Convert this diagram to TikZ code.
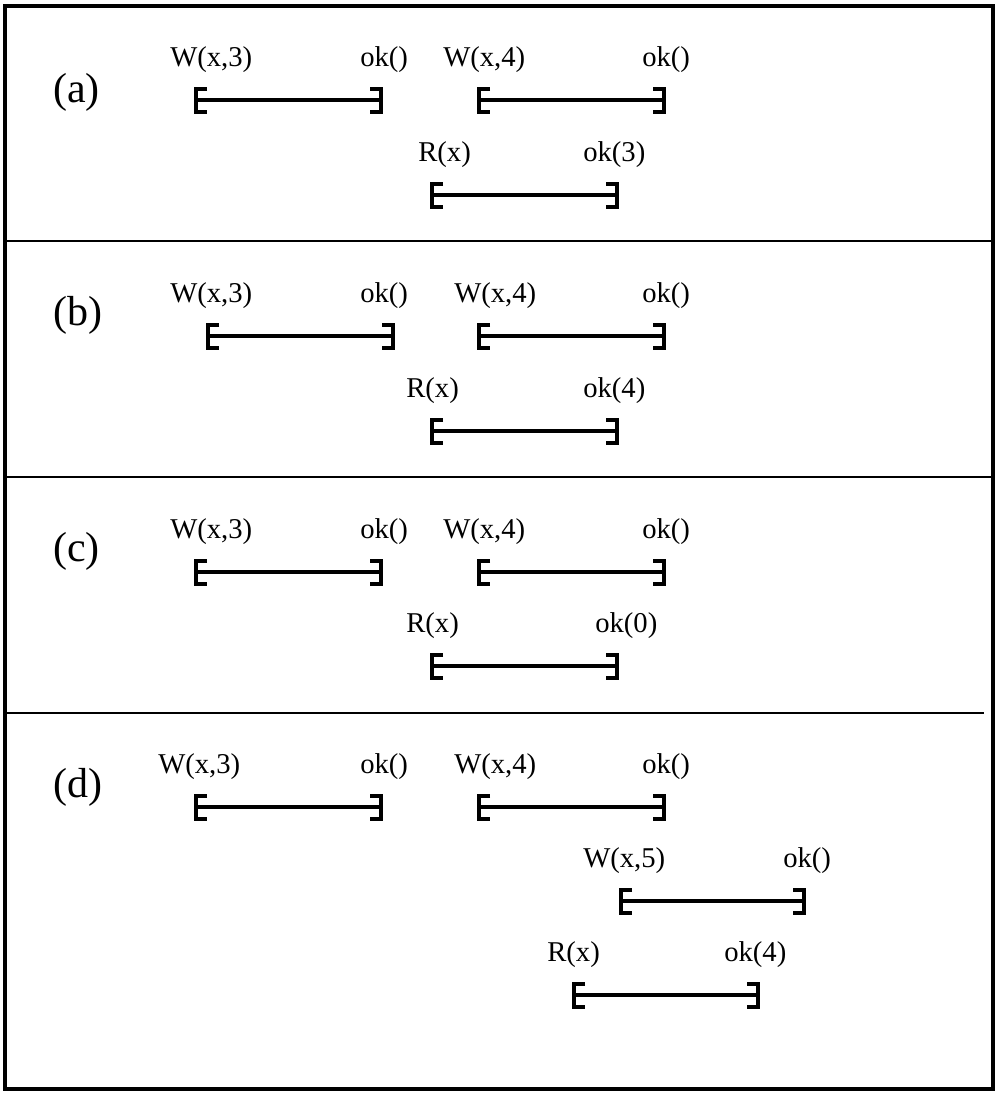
\documentclass[tikz,border=0pt]{standalone}
\usepackage{fontspec}
\setmainfont{Liberation Serif}
\newcommand\ivl[8]{% #1 name, #2 x1, #3 x2, #4 y, #5 left text, #6 left x, #7 right text, #8 right x
  \coordinate (#1s) at (#2+2,#4);
  \coordinate (#1e) at (#3-2,#4);
  \draw[brk] ([shift={(11,-11.5)}]#1s) -- ([shift={(0,-11.5)}]#1s) -- ([shift={(0,11.5)}]#1s) -- ([shift={(11,11.5)}]#1s);
  \draw[brk] ([shift={(-11,-11.5)}]#1e) -- ([shift={(0,-11.5)}]#1e) -- ([shift={(0,11.5)}]#1e) -- ([shift={(-11,11.5)}]#1e);
  \draw[bar] (#1s) -- (#1e);
  \node[lbl] (#1l) at (#6,#4-34) {#5};
  \node[lbl] (#1r) at (#8,#4-34) {#7};
}
\begin{document}
\begin{tikzpicture}[x=0.75pt,y=-0.75pt,
  lbl/.style={inner sep=0pt, anchor=base west, font=\fontsize{21.5}{24}\selectfont},
  tag/.style={inner sep=0pt, anchor=base west, font=\fontsize{31.5}{36}\selectfont},
  bar/.style={line width=2.4pt},
  brk/.style={line width=3pt, line cap=butt, line join=miter},
  sep/.style={line width=1.1pt}]
\useasboundingbox (0,0) rectangle (998,1096);
\draw[line width=3pt] (5,6) rectangle (993,1089);
\draw[sep] (5,241) -- (993,241);
\draw[sep] (5,477) -- (993,477);
\draw[sep] (5,713) -- (984,713);
\node[tag] (ta) at (53,102) {(a)};
\node[tag] (tb) at (53,325) {(b)};
\node[tag] (tc) at (53,561) {(c)};
\node[tag] (td) at (53,797) {(d)};
% (a)
\ivl{aa}{194}{383}{100}{W(x,3)}{170}{ok()}{360}
\ivl{ab}{477}{666}{100}{W(x,4)}{443}{ok()}{642}
\ivl{ac}{430}{619}{195}{R(x)}{418}{ok(3)}{583}
% (b)
\ivl{ba}{206}{395}{336}{W(x,3)}{170}{ok()}{360}
\ivl{bb}{477}{666}{336}{W(x,4)}{454}{ok()}{642}
\ivl{bc}{430}{619}{431}{R(x)}{406}{ok(4)}{583}
% (c)
\ivl{ca}{194}{383}{572}{W(x,3)}{170}{ok()}{360}
\ivl{cb}{477}{666}{572}{W(x,4)}{443}{ok()}{642}
\ivl{cc}{430}{619}{666}{R(x)}{406}{ok(0)}{595}
% (d)
\ivl{da}{194}{383}{807}{W(x,3)}{158}{ok()}{360}
\ivl{db}{477}{666}{807}{W(x,4)}{454}{ok()}{642}
\ivl{dc}{619}{806}{901}{W(x,5)}{583}{ok()}{783}
\ivl{dd}{572}{760}{995}{R(x)}{547}{ok(4)}{724}
\end{tikzpicture}
\end{document}
